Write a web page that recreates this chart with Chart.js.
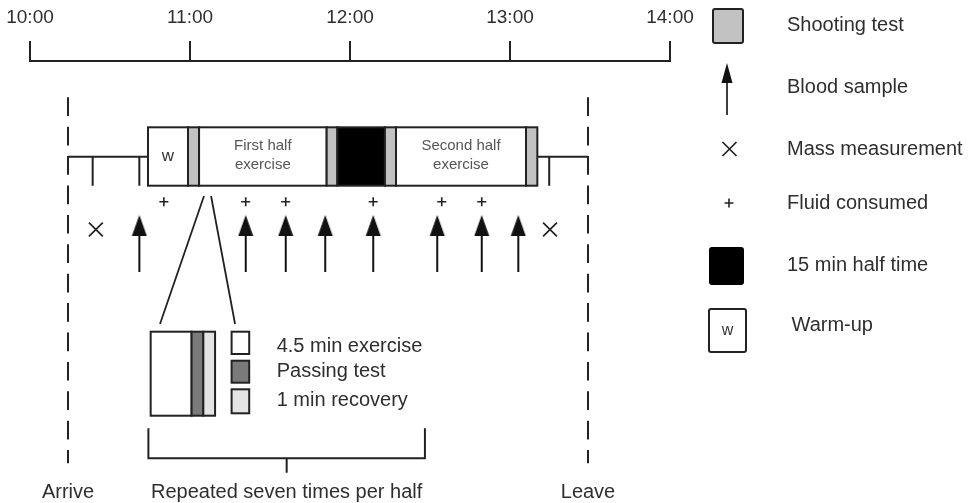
<!DOCTYPE html>
<html><head><meta charset="utf-8">
<script src="https://cdn.jsdelivr.net/npm/chart.js@4"></script>
<style>html,body{margin:0;padding:0;background:#fff;}canvas{display:block}</style>
</head><body><canvas id="c" width="973" height="503"></canvas>
<script>
// ---------- DATA (minutes after 10:00) ----------
const tickMinutes = [0, 60, 120, 180, 240];
const tickLabels = ['10:00', '11:00', '12:00', '13:00', '14:00'];
const arriveMin = 14.25;
const leaveMin = 209.25;
const phaseStart = [44.25, 59.25, 63.4, 111.25, 115.25, 133.1, 137.25, 186];
const phaseEnd   = [59.25, 63.4, 111.25, 115.25, 133.1, 137.25, 186, 190.25];
const phaseKind  = ['warmup', 'shoot', 'exercise', 'shoot', 'halftime', 'shoot', 'exercise', 'shoot'];
const phaseText  = [['w'], [], ['First half', 'exercise'], [], [], [], ['Second half', 'exercise'], []];
const timelineTicks = [23.5, 41, 194.7];
const bloodSampleMin = [41, 80.9, 95.9, 110.7, 128.7, 152.7, 169.4, 183.1];
const massMin = [24.7, 195];
const fluidMin = [50.2, 80.9, 95.9, 128.7, 154.4, 169.4];
const zoomFromMin = [65.25, 67.9];
const zoomToMin = [48.75, 76.9];
const insetEdges = [45.25, 60.6, 65, 69.4];
const insetKind = ['exercise', 'passing', 'recovery'];
const insetKeyMin = [75.6, 82.2];
const insetTextMin = 92.5;
const insetLabels = ['4.5 min exercise', 'Passing test', '1 min recovery'];
const bracketMin = [44.4, 148.1];
const bracketCenterMin = 96.25;
const bottomLabels = ['Arrive', 'Repeated seven times per half', 'Leave'];
const legendLabels = ['Shooting test', 'Blood sample', 'Mass measurement', 'Fluid consumed', '15 min half time', 'Warm-up'];

// ---------- LAYOUT / STYLE ----------
const FONT = "'Liberation Sans', Arial, sans-serif";
const INK = '#222';
const TXT = '#2e2e2e';
const FILL = {warmup: '#ffffff', shoot: '#c2c2c2', exercise: '#ffffff', halftime: '#000000',
              passing: '#7a7a7a', recovery: '#e4e4e4'};
const LANE = {dashTop: 97.3, dashBottom: 463.3, timeline: 156.7, boxTop: 127.3, boxBottom: 185.7,
  fluid: 201.7, blood: 243.5, mass: 229.5, zoomTop: 196, zoomBottom: 324,
  insetTop: 331.7, insetBottom: 415.7, keyRows: [[331.7, 354], [360.7, 382.7], [389.3, 413.3]],
  keyText: [346.7, 371.7, 400], bracketTop: 428.3, bracketBottom: 458.3, bracketTick: 472.7, bottomLabel: 492.7};

// arrow image used as point style for blood samples
function makeArrow(w, h, head, shaft) {
  const c = document.createElement('canvas');
  c.width = w; c.height = h;
  const g = c.getContext('2d');
  g.fillStyle = '#111';
  g.beginPath(); g.moveTo(w / 2, 0); g.lineTo(w - 0.5, head); g.lineTo(0.5, head); g.closePath(); g.fill();
  g.fillRect(w / 2 - shaft / 2, head - 1, shaft, h - head + 1);
  return c;
}
const arrowImg = makeArrow(16, 57, 21, 2);

const diagram = {
  id: 'diagram',
  beforeDatasetsDraw(chart) {
    const c = chart.ctx, xs = chart.scales.x, ys = chart.scales.y;
    const X = v => xs.getPixelForValue(v), Y = v => ys.getPixelForValue(v);
    c.save();
    c.lineCap = 'butt';
    // dashed arrive/leave lines
    c.strokeStyle = INK; c.lineWidth = 2; c.setLineDash([18.7, 10.7]);
    [arriveMin, leaveMin].forEach(m => {
      c.beginPath(); c.moveTo(X(m), Y(LANE.dashTop)); c.lineTo(X(m), Y(LANE.dashBottom)); c.stroke();
    });
    c.setLineDash([]);
    // timeline stubs
    c.beginPath();
    c.moveTo(X(arriveMin), Y(LANE.timeline)); c.lineTo(X(phaseStart[0]), Y(LANE.timeline));
    c.moveTo(X(phaseEnd[phaseEnd.length - 1]), Y(LANE.timeline)); c.lineTo(X(leaveMin), Y(LANE.timeline));
    timelineTicks.forEach(m => { c.moveTo(X(m), Y(LANE.timeline)); c.lineTo(X(m), Y(LANE.boxBottom)); });
    c.stroke();
    // phases
    phaseStart.forEach((s, i) => {
      const x0 = X(s), x1 = X(phaseEnd[i]), y0 = Y(LANE.boxTop), y1 = Y(LANE.boxBottom);
      c.fillStyle = FILL[phaseKind[i]];
      c.fillRect(x0, y0, x1 - x0, y1 - y0);
      c.strokeStyle = INK; c.lineWidth = 2;
      c.strokeRect(x0, y0, x1 - x0, y1 - y0);
      const t = phaseText[i];
      if (t.length === 1) {
        c.fillStyle = '#333'; c.font = '17px ' + FONT; c.textAlign = 'center'; c.textBaseline = 'middle';
        c.fillText(t[0], (x0 + x1) / 2, (y0 + y1) / 2);
      } else if (t.length === 2) {
        c.fillStyle = '#555'; c.font = '15px ' + FONT; c.textAlign = 'center'; c.textBaseline = 'middle';
        c.fillText(t[0], (x0 + x1) / 2, Y(146));
        c.fillText(t[1], (x0 + x1) / 2, Y(165));
      }
    });
    // zoom lines
    c.strokeStyle = INK; c.lineWidth = 1.8;
    c.beginPath();
    zoomFromMin.forEach((m, i) => { c.moveTo(X(m), Y(LANE.zoomTop)); c.lineTo(X(zoomToMin[i]), Y(LANE.zoomBottom)); });
    c.stroke();
    // inset block
    for (let i = 0; i < insetKind.length; i++) {
      const x0 = X(insetEdges[i]), x1 = X(insetEdges[i + 1]);
      c.fillStyle = FILL[insetKind[i]];
      c.fillRect(x0, Y(LANE.insetTop), x1 - x0, Y(LANE.insetBottom) - Y(LANE.insetTop));
      c.strokeStyle = INK; c.lineWidth = 2;
      c.strokeRect(x0, Y(LANE.insetTop), x1 - x0, Y(LANE.insetBottom) - Y(LANE.insetTop));
    }
    // inset key
    LANE.keyRows.forEach((r, i) => {
      const x0 = X(insetKeyMin[0]), x1 = X(insetKeyMin[1]);
      c.fillStyle = FILL[insetKind[i]];
      c.fillRect(x0, Y(r[0]), x1 - x0, Y(r[1]) - Y(r[0]));
      c.strokeStyle = INK; c.lineWidth = 2;
      c.strokeRect(x0, Y(r[0]), x1 - x0, Y(r[1]) - Y(r[0]));
      c.fillStyle = TXT; c.font = '20px ' + FONT; c.textAlign = 'left'; c.textBaseline = 'middle';
      c.fillText(insetLabels[i], X(insetTextMin), Y(LANE.keyText[i]));
    });
    // bracket
    c.strokeStyle = INK; c.lineWidth = 2;
    c.beginPath();
    c.moveTo(X(bracketMin[0]), Y(LANE.bracketTop)); c.lineTo(X(bracketMin[0]), Y(LANE.bracketBottom));
    c.lineTo(X(bracketMin[1]), Y(LANE.bracketBottom)); c.lineTo(X(bracketMin[1]), Y(LANE.bracketTop));
    c.moveTo(X(bracketCenterMin), Y(LANE.bracketBottom)); c.lineTo(X(bracketCenterMin), Y(LANE.bracketTick));
    c.stroke();
    // bottom labels
    c.fillStyle = TXT; c.font = '20px ' + FONT; c.textAlign = 'center'; c.textBaseline = 'middle';
    [arriveMin, bracketCenterMin, leaveMin].forEach((m, i) => c.fillText(bottomLabels[i], X(m), Y(LANE.bottomLabel)));
    c.restore();
  },
  afterDraw(chart) {
    const c = chart.ctx;
    c.save();
    c.strokeStyle = INK; c.lineWidth = 2;
    // legend markers
    c.fillStyle = FILL.shoot; c.beginPath(); c.roundRect(713, 9, 30, 34, 2); c.fill(); c.stroke();
    c.drawImage(makeArrow(12, 52, 20, 1.6), 721, 63);
    c.lineWidth = 1.7; c.strokeStyle = '#222';
    c.beginPath(); c.moveTo(722.5, 142); c.lineTo(736.5, 156); c.moveTo(736.5, 142); c.lineTo(722.5, 156); c.stroke();
    c.lineWidth = 1.6;
    c.beginPath(); c.moveTo(724.5, 203); c.lineTo(733.5, 203); c.moveTo(729, 198.5); c.lineTo(729, 207.5); c.stroke();
    c.fillStyle = '#000'; c.beginPath(); c.roundRect(709, 247, 35, 38, 3); c.fill();
    c.lineWidth = 2; c.fillStyle = '#fff'; c.beginPath(); c.roundRect(709, 309, 37, 43, 2); c.fill(); c.stroke();
    c.fillStyle = '#333'; c.font = '16px ' + FONT; c.textAlign = 'center'; c.textBaseline = 'middle';
    c.fillText('w', 727.5, 331);
    // legend texts
    c.fillStyle = TXT; c.font = '20px ' + FONT; c.textAlign = 'left';
    const ly = [25, 87, 149, 203, 265, 325];
    legendLabels.forEach((t, i) => c.fillText(t, i === 5 ? 791.5 : 787, ly[i]));
    c.restore();
  }
};

new Chart(document.getElementById('c'), {
  type: 'scatter',
  data: {
    datasets: [
      {label: 'Fluid consumed', data: fluidMin.map(m => ({x: m, y: LANE.fluid})),
       pointStyle: 'cross', pointRadius: 4.5, borderColor: '#222', backgroundColor: '#222', borderWidth: 1.6},
      {label: 'Mass measurement', data: massMin.map(m => ({x: m, y: LANE.mass})),
       pointStyle: 'crossRot', pointRadius: 9.8, borderColor: '#222', backgroundColor: '#222', borderWidth: 1.7},
      {label: 'Blood sample', data: bloodSampleMin.map(m => ({x: m, y: LANE.blood})),
       pointStyle: arrowImg, pointRadius: 10}
    ]
  },
  options: {
    responsive: false, animation: false, events: [],
    layout: {autoPadding: false, padding: {left: 30, right: 303, top: 0, bottom: 0}},
    plugins: {legend: {display: false}, tooltip: {enabled: false}},
    scales: {
      x: {
        type: 'linear', position: 'top', min: 0, max: 240,
        afterBuildTicks: s => { s.ticks = tickMinutes.map(v => ({value: v})); },
        afterFit: s => { s.height = 61; s.paddingLeft = 0; s.paddingRight = 0; },
        ticks: {callback: (v, i) => tickLabels[i], font: {size: 19, family: FONT}, color: TXT,
                padding: 12, maxRotation: 0, autoSkip: false},
        grid: {drawOnChartArea: false, drawTicks: true, tickLength: 20, color: INK, lineWidth: 2},
        border: {display: true, color: INK, width: 2}
      },
      y: {type: 'linear', display: false, min: 61, max: 503, reverse: true,
          ticks: {display: false},
          afterFit: s => { s.width = 0; s.paddingTop = 0; s.paddingBottom = 0; }}
    }
  },
  plugins: [diagram]
});
</script>
</body></html>
